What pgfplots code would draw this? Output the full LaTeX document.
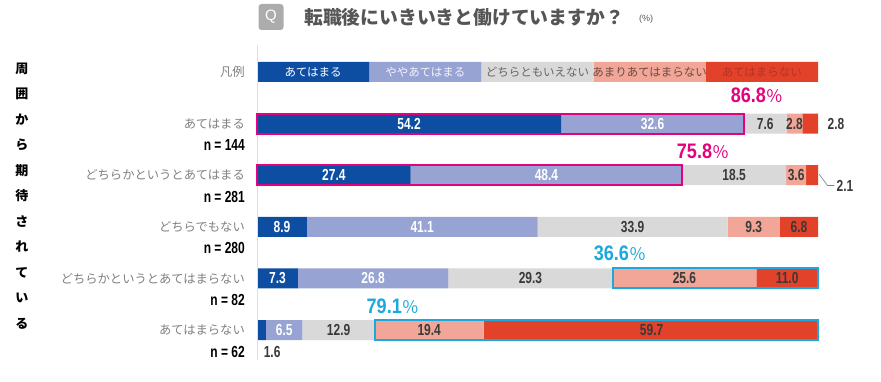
\documentclass[border=0pt]{standalone}
\usepackage{pgfplots}
\pgfplotsset{compat=1.18}
\usepackage{pgfplotstable}
\usepackage{fontspec}
\setmainfont{Liberation Sans}
\newfontfamily\jpfont{Noto Sans CJK JP}
\newfontfamily\condfont[FakeStretch=0.75]{Liberation Sans}
\newfontfamily\pcondfont[FakeStretch=0.86]{Liberation Sans}
\definecolor{cA}{HTML}{0D4EA2}
\definecolor{cB}{HTML}{97A3D3}
\definecolor{cC}{HTML}{D9D9D9}
\definecolor{cD}{HTML}{F1A697}
\definecolor{cE}{HTML}{E2412A}
\definecolor{pinkc}{HTML}{E4007F}
\definecolor{cyanc}{HTML}{1BA8DC}
\definecolor{dtxt}{HTML}{3A3A3A}
\definecolor{catc}{HTML}{808080}
\definecolor{ttl}{HTML}{555555}

\tikzset{
  lgd/.style={font=\jpfont\fontsize{11.5}{11.5}\selectfont, inner sep=0pt},
  catl/.style={anchor=east, inner sep=0pt, text=catc, font=\jpfont\fontsize{12.3}{12.3}\selectfont},
  nl/.style={anchor=east, inner sep=0pt, font=\condfont\bfseries\fontsize{16}{16}\selectfont},
  pctl/.style={inner sep=0pt},
}

% segment widths (percent); row 0 is the legend strip
\pgfplotstableread{
y A B C D E
0 20 20 20 20 20
1 54.2 32.6 7.6 2.8 2.8
2 27.4 48.4 18.5 3.6 2.1
3 8.9 41.1 33.9 9.3 6.8
4 7.3 26.8 29.3 25.6 11.0
5 1.6 6.5 12.9 19.4 59.7
}\segtable

% value labels at segment centres (light text on dark segments)
\pgfplotstableread{
x y lab
27.1 1 54.2
70.5 1 32.6
13.7 2 27.4
51.6 2 48.4
4.45 3 8.9
29.45 3 41.1
3.65 4 7.3
20.7 4 26.8
4.85 5 6.5
}\lightlabels

% value labels at segment centres (dark text)
\pgfplotstableread{
x y lab
90.6 1 7.6
95.8 1 2.8
103.2 1 2.8
85.05 2 18.5
96.1 2 3.6
66.95 3 33.9
88.55 3 9.3
96.6 3 6.8
48.75 4 29.3
76.2 4 25.6
94.5 4 11.0
14.55 5 12.9
30.7 5 19.4
70.35 5 59.7
2.7 5.43 1.6
}\darklabels

\begin{document}
\begin{tikzpicture}
\path[use as bounding box] (0,0) rectangle (881pt,381pt);
% title
\node[fill=gray!65, rounded corners=3pt, minimum width=25pt, minimum height=26pt, inner sep=0pt, text=white, font=\fontsize{15}{15}\selectfont] at (271pt,364pt) {Q};
\node[anchor=west, text=ttl, font=\jpfont\bfseries\fontsize{18.8}{18.8}\selectfont, inner sep=0pt] at (304pt,364pt) {転職後にいきいきと働けていますか？};
\node[text=ttl, font=\fontsize{9}{9}\selectfont, inner sep=0pt] at (646pt,362pt) {(\%)};
% vertical side text
\node[align=center, font=\jpfont\bfseries\fontsize{13}{25.5}\selectfont, inner sep=0pt] at (22pt,185pt) {周\\囲\\か\\ら\\期\\待\\さ\\れ\\て\\い\\る};

\begin{axis}[
  at={(257pt,340pt)}, anchor=north west,
  scale only axis, width=561pt, height=320pt,
  xbar stacked, bar width=20pt,
  xmin=0, xmax=100, ymin=-0.6, ymax=5.6, y dir=reverse,
  hide axis, clip=false,
]
\addplot[fill=cA, draw=none] table[x=A, y=y] {\segtable};
\addplot[fill=cB, draw=none] table[x=B, y=y] {\segtable};
\addplot[fill=cC, draw=none] table[x=C, y=y] {\segtable};
\addplot[fill=cD, draw=none] table[x=D, y=y] {\segtable};
\addplot[fill=cE, draw=none] table[x=E, y=y] {\segtable};
\end{axis}

% overlay axis with identical geometry: labels, outlines, annotations
\begin{axis}[
  at={(257pt,340pt)}, anchor=north west,
  scale only axis, width=561pt, height=320pt,
  xmin=0, xmax=100, ymin=-0.6, ymax=5.6, y dir=reverse,
  hide axis, clip=false,
  point meta=explicit symbolic,
  nodes near coords, nodes near coords align=center,
  every node near coord/.append style={inner sep=0pt, font=\condfont\bfseries\fontsize{16}{16}\selectfont},
]
\addplot[draw=none, mark=none, nodes near coords style={text=white}] table[x=x, y=y, meta=lab] {\lightlabels};
\addplot[draw=none, mark=none, nodes near coords style={text=dtxt}] table[x=x, y=y, meta=lab] {\darklabels};

\draw[gray!25, line width=0.8pt] (axis cs:0,-0.52) -- (axis cs:0,5.58);

\node[lgd, text=white] at (axis cs:10,0) {あてはまる};
\node[lgd, text=white!88!cB] at (axis cs:30,0) {ややあてはまる};
\node[lgd, text=black!60] at (axis cs:50,0) {どちらともいえない};
\node[lgd, text=black!55!cD] at (axis cs:70,0) {あまりあてはまらない};
\node[lgd, text=black!20!cE] at (axis cs:90,0) {あてはまらない};

\node[catl] at (axis cs:-2.14,0) {凡例};
\node[catl] at (axis cs:-2.14,1) {あてはまる};
\node[catl] at (axis cs:-2.14,2) {どちらかというとあてはまる};
\node[catl] at (axis cs:-2.14,3) {どちらでもない};
\node[catl] at (axis cs:-2.14,4) {どちらかというとあてはまらない};
\node[catl] at (axis cs:-2.14,5) {あてはまらない};
\node[nl] at (axis cs:-2.14,1.42) {n = 144};
\node[nl] at (axis cs:-2.14,2.42) {n = 281};
\node[nl] at (axis cs:-2.14,3.42) {n = 280};
\node[nl] at (axis cs:-2.14,4.42) {n = 82};
\node[nl] at (axis cs:-2.14,5.42) {n = 62};

\node[nl, anchor=west, text=dtxt] at (axis cs:103.3,2.2) {2.1};
\draw[gray, line width=0.6pt] (axis cs:100.2,1.98) -- (axis cs:101.7,2.2) -- (axis cs:102.9,2.2);

\draw[pinkc, line width=2pt] (axis cs:0,0.806) rectangle (axis cs:86.8,1.194);
\draw[pinkc, line width=2pt] (axis cs:0,1.806) rectangle (axis cs:75.8,2.194);
\draw[cyanc, line width=2pt] (axis cs:63.4,3.806) rectangle (axis cs:100,4.194);
\draw[cyanc, line width=2pt] (axis cs:21.0,4.806) rectangle (axis cs:100,5.194);

\node[pctl, text=pinkc] at (axis cs:89.1,0.45) {{\pcondfont\bfseries\fontsize{21}{21}\selectfont 86.8}{\jpfont\fontsize{17}{17}\selectfont ％}};
\node[pctl, text=pinkc] at (axis cs:79.5,1.53) {{\pcondfont\bfseries\fontsize{21}{21}\selectfont 75.8}{\jpfont\fontsize{17}{17}\selectfont ％}};
\node[pctl, text=cyanc] at (axis cs:64.7,3.51) {{\pcondfont\bfseries\fontsize{21}{21}\selectfont 36.6}{\jpfont\fontsize{17}{17}\selectfont ％}};
\node[pctl, text=cyanc] at (axis cs:24.2,4.53) {{\pcondfont\bfseries\fontsize{21}{21}\selectfont 79.1}{\jpfont\fontsize{17}{17}\selectfont ％}};
\end{axis}
\end{tikzpicture}
\end{document}
